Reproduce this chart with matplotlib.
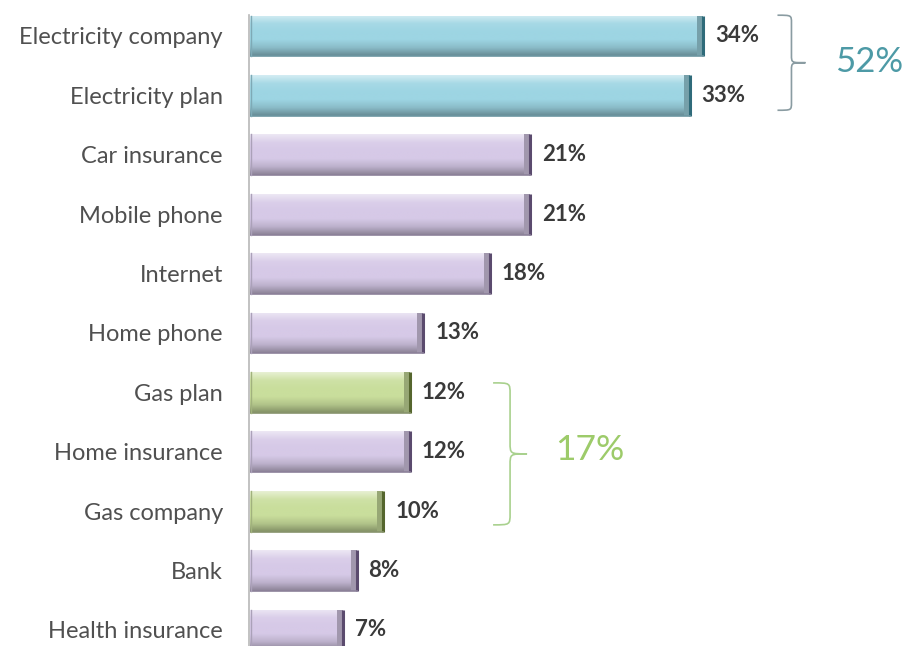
import numpy as np
import matplotlib
matplotlib.use("Agg")
import matplotlib.pyplot as plt
from matplotlib.path import Path
from matplotlib.patches import PathPatch, Rectangle
from matplotlib.colors import to_rgb

plt.rcParams['font.family'] = ['Lato', 'DejaVu Sans']

# switching intentions by service
services = ['Electricity company', 'Electricity plan', 'Car insurance', 'Mobile phone',
            'Internet', 'Home phone', 'Gas plan', 'Home insurance', 'Gas company',
            'Bank', 'Health insurance']
shares = [34, 33, 21, 21, 18, 13, 12, 12, 10, 8, 7]
groups = ['elec', 'elec', 'other', 'other', 'other', 'other', 'gas', 'other', 'gas', 'other', 'other']

# combined totals shown next to the braces
elec_total = '52%'
gas_total = '17%'

colours = {'elec': ('#9dd5e3', '#2f6b7a'),
           'other': ('#d6c9e7', '#5b4b6e'),
           'gas': ('#c9de9c', '#55662e')}


def shade(c, f):
    c = np.array(to_rgb(c))
    if f > 0:
        return c + (1 - c) * f
    return c * (1 + f)


def bevel_bar(ax, y, w, h, face, edge):
    # body with a vertical light-to-dark gradient
    rect = Rectangle((0, y - h / 2), w, h, facecolor='none', edgecolor='none')
    ax.add_patch(rect)
    stops = np.array([shade(face, 0.55), shade(face, 0.1), shade(face, 0), shade(face, 0),
                      shade(face, -0.12), shade(face, -0.35)])
    t = np.linspace(0, 1, 60)
    pos = np.linspace(0, 1, len(stops))
    grad = np.stack([np.interp(t, pos, stops[:, k]) for k in range(3)], axis=1)
    img = ax.imshow(grad[:, None, :], extent=[0, w, y + h / 2, y - h / 2],
                    aspect='auto', interpolation='bilinear', zorder=2)
    img.set_clip_path(rect)
    # darker bevelled right end
    ew = 0.45
    ax.add_patch(Rectangle((w - ew, y - h / 2), ew, h, facecolor=shade(face, -0.25),
                           edgecolor='none', zorder=3))
    ax.plot([w, w], [y - h / 2, y + h / 2], color=edge, lw=2.2, zorder=4,
            solid_capstyle='butt')
    ax.plot([0, w], [y + h / 2, y + h / 2], color=shade(edge, 0.3), lw=1.2, zorder=4)
    ax.plot([0.1, 0.1], [y - h / 2, y + h / 2], color=shade(face, -0.2), lw=1, zorder=4)


def brace(ax, x0, x1, y0, y1, color):
    xm = (x0 + x1) / 2
    ym = (y0 + y1) / 2
    d = (y1 - y0) * 0.08
    verts = [(x0, y0), (xm, y0), (xm, y0), (xm, y0 + d),
             (xm, ym - d),
             (xm, ym), (xm, ym), (x1, ym),
             (xm, ym), (xm, ym), (xm, ym + d),
             (xm, y1 - d),
             (xm, y1), (xm, y1), (x0, y1)]
    codes = [Path.MOVETO, Path.CURVE4, Path.CURVE4, Path.CURVE4,
             Path.LINETO,
             Path.CURVE4, Path.CURVE4, Path.CURVE4,
             Path.CURVE4, Path.CURVE4, Path.CURVE4,
             Path.LINETO,
             Path.CURVE4, Path.CURVE4, Path.CURVE4]
    ax.add_patch(PathPatch(Path(verts, codes), facecolor='none', edgecolor=color,
                           lw=1.2, zorder=5, clip_on=False))


fig = plt.figure(figsize=(9.05, 6.46), dpi=100)
ax = fig.add_axes([250 / 905, 0, 655 / 905, 1])

ypos = np.arange(len(services))
bar_h = 0.69
for y, v, g in zip(ypos, shares, groups):
    face, edge = colours[g]
    bevel_bar(ax, y, v, bar_h, face, edge)
    ax.text(v + 0.9, y, f'{v}%', va='center', ha='left', fontsize=16,
            fontweight='bold', color='#3a3a3a')

ax.set_xlim(0, 655 / 13.32)
ax.set_ylim((646 - 36) / 59.4, -36 / 59.4)

ax.set_yticks(ypos)
ax.set_yticklabels(services, fontsize=17, color='#505050')
ax.tick_params(axis='y', length=0, pad=19.5)
ax.set_xticks([])
for s in ax.spines.values():
    s.set_visible(False)
ax.plot([-0.07, -0.07], [-0.35, 10.3], color='#b8b8b8', lw=1.2, clip_on=False, zorder=1)

brace(ax, 39.6, 41.7, -0.35, 1.25, '#8a9ca2')
ax.text(43.9, 0.44, elec_total, va='center', ha='left', fontsize=25, color='#4d9aa6')
brace(ax, 18.25, 20.8, 5.84, 8.23, '#a9d18e')
ax.text(22.9, 6.97, gas_total, va='center', ha='left', fontsize=25.5, color='#9dcb6a')

fig.savefig('out.png', dpi=100, facecolor='white')
